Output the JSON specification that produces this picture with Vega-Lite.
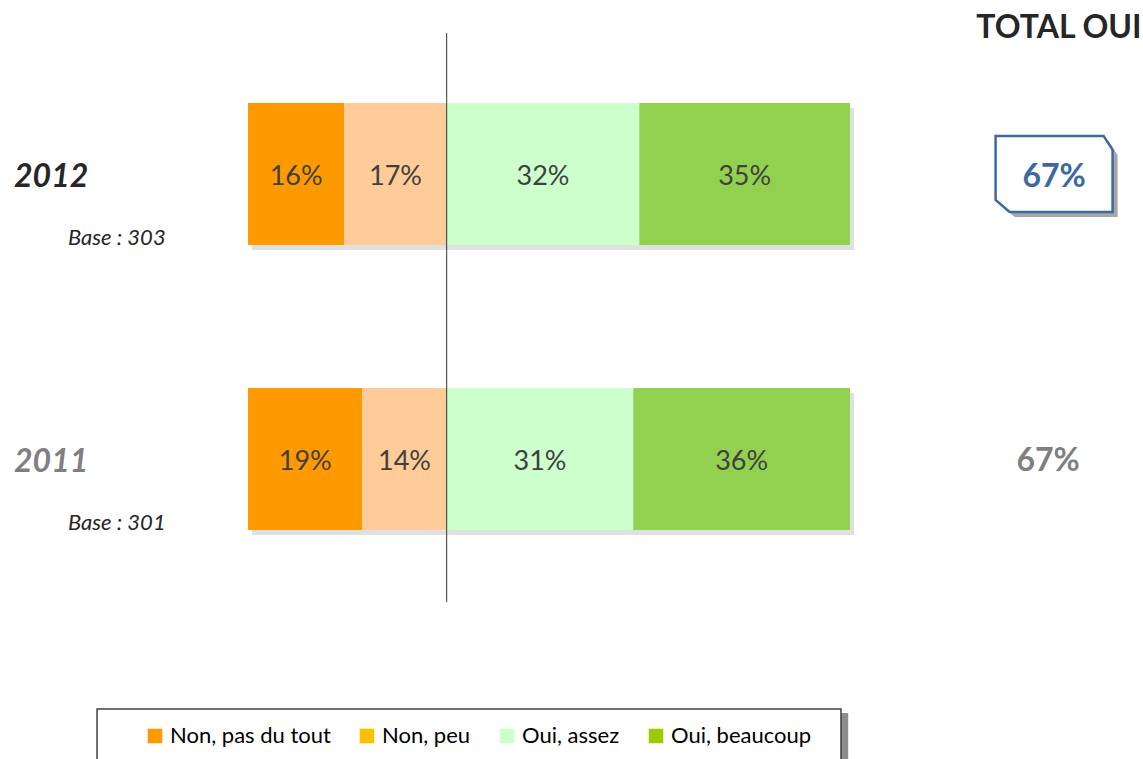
{
  "$schema": "https://vega.github.io/schema/vega-lite/v6.json",
  "width": 1143,
  "height": 759,
  "autosize": {"type": "none"},
  "padding": 0,
  "config": {"view": {"stroke": null}, "font": "Lato"},
  "datasets": {
    "reponses": [
      {"annee": "2012", "reponse": "Non, pas du tout", "pct": 16, "etiquette": "16%", "rang": 1},
      {"annee": "2012", "reponse": "Non, peu", "pct": 17, "etiquette": "17%", "rang": 2},
      {"annee": "2012", "reponse": "Oui, assez", "pct": 32, "etiquette": "32%", "rang": 3},
      {"annee": "2012", "reponse": "Oui, beaucoup", "pct": 35, "etiquette": "35%", "rang": 4},
      {"annee": "2011", "reponse": "Non, pas du tout", "pct": 19, "etiquette": "19%", "rang": 1},
      {"annee": "2011", "reponse": "Non, peu", "pct": 14, "etiquette": "14%", "rang": 2},
      {"annee": "2011", "reponse": "Oui, assez", "pct": 31, "etiquette": "31%", "rang": 3},
      {"annee": "2011", "reponse": "Oui, beaucoup", "pct": 36, "etiquette": "36%", "rang": 4}
    ],
    "annees": [
      {"annee": "2012", "base": "Base : 303", "total": "67%"},
      {"annee": "2011", "base": "Base : 301", "total": "67%"}
    ],
    "titre": [{"texte": "TOTAL OUI"}]
  },
  "encoding": {
    "y": {
      "field": "annee",
      "type": "nominal",
      "axis": null,
      "scale": {"domain": ["2012", "2011"], "paddingInner": 0.5018, "paddingOuter": 0.5826, "align": 0.31, "round": false}
    }
  },
  "layer": [
    {
      "data": {"name": "titre"},
      "mark": {"type": "rect", "fill": "#8c8c8c"},
      "encoding": {
        "x": {"datum": -24, "type": "quantitative", "scale": {"domain": [-41.2, 148.67], "nice": false, "zero": false}, "axis": null},
        "x2": {"datum": 99.7},
        "y": {"datum": "2011", "bandPosition": 2.29},
        "y2": {"datum": "2011", "bandPosition": 3}
      }
    },
    {
      "data": {"name": "titre"},
      "mark": {"type": "rect", "fill": "white", "stroke": "#404040", "strokeWidth": 1.5},
      "encoding": {
        "x": {"datum": -25.08, "type": "quantitative"},
        "x2": {"datum": 98.5},
        "y": {"datum": "2011", "bandPosition": 2.261},
        "y2": {"datum": "2011", "bandPosition": 3}
      }
    },
    {
      "data": {"name": "reponses"},
      "mark": {"type": "point", "shape": "square", "filled": true, "opacity": 1, "size": 10},
      "encoding": {
        "x": {"datum": 50, "type": "quantitative"},
        "color": {
          "field": "reponse",
          "type": "nominal",
          "scale": {"domain": ["Non, pas du tout", "Non, peu", "Oui, assez", "Oui, beaucoup"], "range": ["#FF9900", "#FFC000", "#CCFFCC", "#99CC00"]},
          "legend": {
            "title": null,
            "orient": "none",
            "direction": "horizontal",
            "legendX": 144,
            "legendY": 725,
            "padding": 0,
            "symbolType": "square",
            "symbolSize": 210,
            "symbolStrokeWidth": 0,
            "labelFont": "Lato",
            "labelFontSize": 22,
            "labelColor": "#000000",
            "labelOffset": 4,
            "columnPadding": 25,
            "labelLimit": 300
          }
        }
      }
    },
    {
      "data": {"name": "reponses"},
      "mark": {"type": "bar", "fill": "#000000", "opacity": 0.12, "xOffset": 4, "x2Offset": 4, "yOffset": 5, "y2Offset": 5},
      "encoding": {
        "x": {"field": "pct", "type": "quantitative", "stack": "zero"},
        "order": {"field": "rang"},
        "detail": {"field": "reponse"}
      }
    },
    {
      "data": {"name": "reponses"},
      "mark": {"type": "bar"},
      "encoding": {
        "x": {"field": "pct", "type": "quantitative", "stack": "zero"},
        "order": {"field": "rang"},
        "fill": {
          "field": "reponse",
          "type": "nominal",
          "scale": {"domain": ["Non, pas du tout", "Non, peu", "Oui, assez", "Oui, beaucoup"], "range": ["#FF9900", "#FFCC99", "#CCFFCC", "#92D050"]},
          "legend": null
        }
      }
    },
    {
      "data": {"name": "reponses"},
      "mark": {"type": "text", "font": "Lato", "fontSize": 27, "color": "#404040", "baseline": "middle", "dy": 3},
      "encoding": {
        "x": {"field": "pct", "type": "quantitative", "stack": "zero", "bandPosition": 0.5},
        "order": {"field": "rang"},
        "detail": {"field": "reponse"},
        "text": {"field": "etiquette"}
      }
    },
    {
      "data": {"name": "titre"},
      "mark": {"type": "rule", "color": "#333333", "strokeWidth": 1, "yOffset": -70, "y2Offset": 72},
      "encoding": {
        "x": {"datum": 33, "type": "quantitative"},
        "y": {"datum": "2012", "bandPosition": 0},
        "y2": {"datum": "2011", "bandPosition": 1}
      }
    },
    {
      "data": {"name": "annees"},
      "mark": {"type": "text", "font": "Lato", "fontSize": 32, "fontWeight": "bold", "fontStyle": "italic", "align": "center", "baseline": "middle", "dy": 3},
      "encoding": {
        "x": {"datum": -32.7, "type": "quantitative"},
        "text": {"field": "annee"},
        "color": {"condition": {"test": "datum.annee === '2012'", "value": "#262626"}, "value": "#7F7F7F"}
      }
    },
    {
      "data": {"name": "annees"},
      "mark": {"type": "text", "font": "Lato", "fontSize": 22, "fontStyle": "italic", "align": "center", "baseline": "middle", "color": "#262626"},
      "encoding": {
        "x": {"datum": -21.8, "type": "quantitative"},
        "y": {"field": "annee", "type": "nominal", "bandPosition": 0.95},
        "text": {"field": "base"}
      }
    },
    {
      "data": {"name": "annees"},
      "transform": [{"filter": "datum.annee === '2012'"}],
      "mark": {"type": "point", "shape": "M-1,-0.65 L0.846,-0.65 L1,-0.41 L1,0.65 L-0.76,0.65 L-1,0.445 Z", "filled": true, "fill": "#A6A6A6", "opacity": 1, "strokeWidth": 0, "size": 13689, "xOffset": 5, "yOffset": 5},
      "encoding": {
        "x": {"datum": 133.9, "type": "quantitative"}
      }
    },
    {
      "data": {"name": "annees"},
      "transform": [{"filter": "datum.annee === '2012'"}],
      "mark": {"type": "point", "shape": "M-1,-0.65 L0.846,-0.65 L1,-0.41 L1,0.65 L-0.76,0.65 L-1,0.445 Z", "filled": true, "fill": "#FFFFFF", "stroke": "#3A6A9F", "strokeWidth": 2.5, "opacity": 1, "size": 13689},
      "encoding": {
        "x": {"datum": 133.9, "type": "quantitative"}
      }
    },
    {
      "data": {"name": "annees"},
      "transform": [{"filter": "datum.annee === '2012'"}],
      "mark": {"type": "text", "font": "Lato", "fontSize": 32, "fontWeight": "bold", "color": "#3A6A9F", "align": "center", "baseline": "middle", "dy": 3},
      "encoding": {
        "x": {"datum": 133.9, "type": "quantitative"},
        "text": {"field": "total"}
      }
    },
    {
      "data": {"name": "annees"},
      "transform": [{"filter": "datum.annee === '2011'"}],
      "mark": {"type": "text", "font": "Lato", "fontSize": 32, "fontWeight": "bold", "color": "#7F7F7F", "align": "center", "baseline": "middle", "dy": 2},
      "encoding": {
        "x": {"datum": 132.9, "type": "quantitative"},
        "text": {"field": "total"}
      }
    },
    {
      "data": {"name": "titre"},
      "mark": {"type": "text", "font": "Lato", "fontSize": 32, "fontWeight": "bold", "color": "#262626", "align": "center", "baseline": "middle", "yOffset": -75},
      "encoding": {
        "x": {"datum": 134.7, "type": "quantitative"},
        "y": {"datum": "2012", "bandPosition": 0},
        "text": {"field": "texte"}
      }
    }
  ]
}
